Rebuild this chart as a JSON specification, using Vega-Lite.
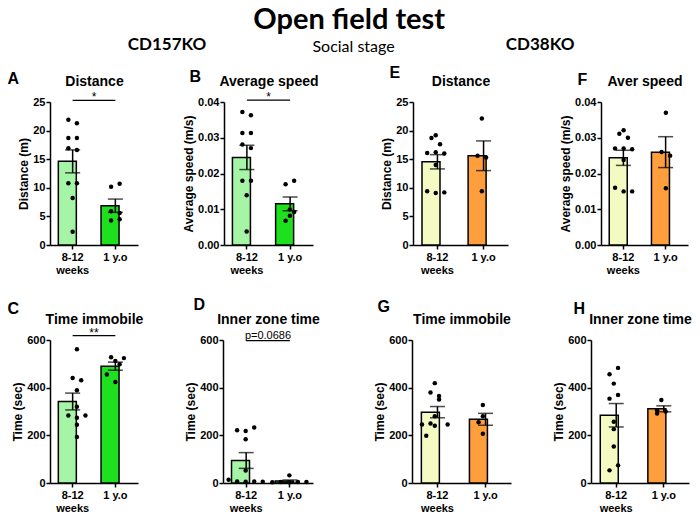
{
  "$schema": "https://vega.github.io/schema/vega-lite/v6.json",
  "padding": {"left": 7, "top": 6, "right": 0, "bottom": 0},
  "background": "white",
  "title": {"text": "Open field test", "font": "Lato", "fontSize": 29, "fontWeight": "bold", "color": "black", "anchor": "middle", "offset": 0},
  "config": {
    "font": "Liberation Sans",
    "view": {"stroke": null},
    "axis": {"domainColor": "black", "domainWidth": 1.5, "tickColor": "black", "tickWidth": 1.5, "tickSize": 4, "labelColor": "black", "labelFont": "Liberation Sans", "labelFontWeight": "bold", "labelFontSize": 11, "labelPadding": 1, "titleFont": "Liberation Sans", "titleFontWeight": "bold", "titleFontSize": 12, "titleColor": "black", "titlePadding": 2, "grid": false},
    "axisBottom": {"labelAngle": 0, "labelLineHeight": 13, "labelPadding": 2, "titleFontSize": 16, "titleAlign": "left", "titleAnchor": "start", "titleBaseline": "alphabetic"},
    "axisTop": {"labels": false, "ticks": false, "domain": false, "titleFontSize": 14, "titleBaseline": "alphabetic", "titleY": -17}
  },
  "datasets": {
    "obs": [
      {"panel": "A", "group": "8-12 weeks", "value": 21.9, "slot": -1},
      {"panel": "A", "group": "8-12 weeks", "value": 21.3, "slot": 1},
      {"panel": "A", "group": "8-12 weeks", "value": 18.7, "slot": -1},
      {"panel": "A", "group": "8-12 weeks", "value": 18.7, "slot": 1},
      {"panel": "A", "group": "8-12 weeks", "value": 16.9, "slot": -1},
      {"panel": "A", "group": "8-12 weeks", "value": 16.6, "slot": 1},
      {"panel": "A", "group": "8-12 weeks", "value": 10.8, "slot": -1},
      {"panel": "A", "group": "8-12 weeks", "value": 10.8, "slot": 1},
      {"panel": "A", "group": "8-12 weeks", "value": 8.2, "slot": 0},
      {"panel": "A", "group": "8-12 weeks", "value": 2.3, "slot": 0},
      {"panel": "A", "group": "1 y.o", "value": 10.2, "slot": -1},
      {"panel": "A", "group": "1 y.o", "value": 10.7, "slot": 1},
      {"panel": "A", "group": "1 y.o", "value": 5.9, "slot": -1},
      {"panel": "A", "group": "1 y.o", "value": 5.6, "slot": 1},
      {"panel": "A", "group": "1 y.o", "value": 4.3, "slot": -1},
      {"panel": "A", "group": "1 y.o", "value": 4.5, "slot": 1},

      {"panel": "B", "group": "8-12 weeks", "value": 0.0372, "slot": -1},
      {"panel": "B", "group": "8-12 weeks", "value": 0.0363, "slot": 1},
      {"panel": "B", "group": "8-12 weeks", "value": 0.0313, "slot": -1},
      {"panel": "B", "group": "8-12 weeks", "value": 0.0313, "slot": 1},
      {"panel": "B", "group": "8-12 weeks", "value": 0.0281, "slot": -1},
      {"panel": "B", "group": "8-12 weeks", "value": 0.0271, "slot": 1},
      {"panel": "B", "group": "8-12 weeks", "value": 0.018, "slot": -1},
      {"panel": "B", "group": "8-12 weeks", "value": 0.018, "slot": 1},
      {"panel": "B", "group": "8-12 weeks", "value": 0.0139, "slot": 0},
      {"panel": "B", "group": "8-12 weeks", "value": 0.0038, "slot": 0},
      {"panel": "B", "group": "1 y.o", "value": 0.017, "slot": -1},
      {"panel": "B", "group": "1 y.o", "value": 0.018, "slot": 1},
      {"panel": "B", "group": "1 y.o", "value": 0.0099, "slot": 0},
      {"panel": "B", "group": "1 y.o", "value": 0.0092, "slot": 1},
      {"panel": "B", "group": "1 y.o", "value": 0.0068, "slot": -1},
      {"panel": "B", "group": "1 y.o", "value": 0.0082, "slot": 0},

      {"panel": "E", "group": "8-12 weeks", "value": 19.2, "slot": 0},
      {"panel": "E", "group": "8-12 weeks", "value": 18.7, "slot": -1},
      {"panel": "E", "group": "8-12 weeks", "value": 17.6, "slot": 1},
      {"panel": "E", "group": "8-12 weeks", "value": 16.1, "slot": -2},
      {"panel": "E", "group": "8-12 weeks", "value": 16.2, "slot": 0},
      {"panel": "E", "group": "8-12 weeks", "value": 16.0, "slot": 2},
      {"panel": "E", "group": "8-12 weeks", "value": 14.0, "slot": 0},
      {"panel": "E", "group": "8-12 weeks", "value": 9.4, "slot": -2},
      {"panel": "E", "group": "8-12 weeks", "value": 9.1, "slot": 0},
      {"panel": "E", "group": "8-12 weeks", "value": 9.2, "slot": 2},
      {"panel": "E", "group": "1 y.o", "value": 22.1, "slot": 0},
      {"panel": "E", "group": "1 y.o", "value": 15.6, "slot": -1},
      {"panel": "E", "group": "1 y.o", "value": 15.3, "slot": 1},
      {"panel": "E", "group": "1 y.o", "value": 9.4, "slot": 0},

      {"panel": "F", "group": "8-12 weeks", "value": 0.0321, "slot": 0},
      {"panel": "F", "group": "8-12 weeks", "value": 0.0311, "slot": -1},
      {"panel": "F", "group": "8-12 weeks", "value": 0.030, "slot": 1},
      {"panel": "F", "group": "8-12 weeks", "value": 0.027, "slot": -2},
      {"panel": "F", "group": "8-12 weeks", "value": 0.027, "slot": 0},
      {"panel": "F", "group": "8-12 weeks", "value": 0.0268, "slot": 2},
      {"panel": "F", "group": "8-12 weeks", "value": 0.0238, "slot": 0},
      {"panel": "F", "group": "8-12 weeks", "value": 0.016, "slot": -2},
      {"panel": "F", "group": "8-12 weeks", "value": 0.015, "slot": 0},
      {"panel": "F", "group": "8-12 weeks", "value": 0.015, "slot": 2},
      {"panel": "F", "group": "1 y.o", "value": 0.037, "slot": 0},
      {"panel": "F", "group": "1 y.o", "value": 0.026, "slot": -1},
      {"panel": "F", "group": "1 y.o", "value": 0.025, "slot": 1},
      {"panel": "F", "group": "1 y.o", "value": 0.0159, "slot": 0},

      {"panel": "C", "group": "8-12 weeks", "value": 561, "slot": 1},
      {"panel": "C", "group": "8-12 weeks", "value": 441, "slot": 0},
      {"panel": "C", "group": "8-12 weeks", "value": 431, "slot": 2},
      {"panel": "C", "group": "8-12 weeks", "value": 389, "slot": 1},
      {"panel": "C", "group": "8-12 weeks", "value": 320, "slot": 1},
      {"panel": "C", "group": "8-12 weeks", "value": 283, "slot": -1},
      {"panel": "C", "group": "8-12 weeks", "value": 283, "slot": 3},
      {"panel": "C", "group": "8-12 weeks", "value": 274, "slot": 1},
      {"panel": "C", "group": "8-12 weeks", "value": 244, "slot": 1},
      {"panel": "C", "group": "8-12 weeks", "value": 193, "slot": 1},
      {"panel": "C", "group": "1 y.o", "value": 528, "slot": -1},
      {"panel": "C", "group": "1 y.o", "value": 524, "slot": 2},
      {"panel": "C", "group": "1 y.o", "value": 512, "slot": 0},
      {"panel": "C", "group": "1 y.o", "value": 498, "slot": 1},
      {"panel": "C", "group": "1 y.o", "value": 455, "slot": -2},
      {"panel": "C", "group": "1 y.o", "value": 424, "slot": 0},

      {"panel": "D", "group": "8-12 weeks", "value": 221, "slot": -2},
      {"panel": "D", "group": "8-12 weeks", "value": 218, "slot": 0},
      {"panel": "D", "group": "8-12 weeks", "value": 233, "slot": 2},
      {"panel": "D", "group": "8-12 weeks", "value": 184, "slot": 0},
      {"panel": "D", "group": "8-12 weeks", "value": 52, "slot": 0},
      {"panel": "D", "group": "8-12 weeks", "value": 14, "slot": -4},
      {"panel": "D", "group": "8-12 weeks", "value": 6, "slot": -2},
      {"panel": "D", "group": "8-12 weeks", "value": 5, "slot": 0},
      {"panel": "D", "group": "8-12 weeks", "value": 6, "slot": 2},
      {"panel": "D", "group": "8-12 weeks", "value": 5, "slot": 4},
      {"panel": "D", "group": "1 y.o", "value": 32, "slot": 0},
      {"panel": "D", "group": "1 y.o", "value": 3, "slot": -4},
      {"panel": "D", "group": "1 y.o", "value": 4, "slot": -2},
      {"panel": "D", "group": "1 y.o", "value": 3, "slot": 0},
      {"panel": "D", "group": "1 y.o", "value": 4, "slot": 2},
      {"panel": "D", "group": "1 y.o", "value": 4, "slot": 4},

      {"panel": "G", "group": "8-12 weeks", "value": 419, "slot": 0},
      {"panel": "G", "group": "8-12 weeks", "value": 380, "slot": -1},
      {"panel": "G", "group": "8-12 weeks", "value": 365, "slot": 1},
      {"panel": "G", "group": "8-12 weeks", "value": 350, "slot": 1},
      {"panel": "G", "group": "8-12 weeks", "value": 280, "slot": 0},
      {"panel": "G", "group": "8-12 weeks", "value": 250, "slot": -1},
      {"panel": "G", "group": "8-12 weeks", "value": 245, "slot": -3},
      {"panel": "G", "group": "8-12 weeks", "value": 240, "slot": 0},
      {"panel": "G", "group": "8-12 weeks", "value": 245, "slot": 3},
      {"panel": "G", "group": "8-12 weeks", "value": 198, "slot": -2},
      {"panel": "G", "group": "1 y.o", "value": 327, "slot": 0},
      {"panel": "G", "group": "1 y.o", "value": 280, "slot": 0},
      {"panel": "G", "group": "1 y.o", "value": 255, "slot": -1},
      {"panel": "G", "group": "1 y.o", "value": 207, "slot": 0},

      {"panel": "H", "group": "8-12 weeks", "value": 483, "slot": 1},
      {"panel": "H", "group": "8-12 weeks", "value": 456, "slot": -1},
      {"panel": "H", "group": "8-12 weeks", "value": 417, "slot": 0},
      {"panel": "H", "group": "8-12 weeks", "value": 369, "slot": 1},
      {"panel": "H", "group": "8-12 weeks", "value": 354, "slot": -1},
      {"panel": "H", "group": "8-12 weeks", "value": 257, "slot": 0},
      {"panel": "H", "group": "8-12 weeks", "value": 226, "slot": 0},
      {"panel": "H", "group": "8-12 weeks", "value": 153, "slot": 0},
      {"panel": "H", "group": "8-12 weeks", "value": 74, "slot": 1},
      {"panel": "H", "group": "8-12 weeks", "value": 53, "slot": -1},
      {"panel": "H", "group": "1 y.o", "value": 348, "slot": 0},
      {"panel": "H", "group": "1 y.o", "value": 305, "slot": -1},
      {"panel": "H", "group": "1 y.o", "value": 300, "slot": 1},
      {"panel": "H", "group": "1 y.o", "value": 292, "slot": -1}
    ]
  },
  "columns": 1,
  "align": "none",
  "spacing": 21,
  "concat": [
    {
      "columns": 1,
      "align": "none",
      "spacing": 9,
      "concat": [
        {
          "width": 560, "height": 20,
          "layer": [
            {
              "data": {"values": [{"label": "CD157KO"}, {"label": "CD38KO"}]},
              "mark": {"type": "text", "font": "Lato", "fontWeight": "bold", "fontSize": 17, "color": "black"},
              "encoding": {
                "x": {"field": "label", "type": "nominal", "scale": {"type": "point", "domain": ["CD157KO", "Social stage", "CD38KO"], "padding": 0.501, "align": 0.626}, "axis": null},
                "text": {"field": "label"}
              }
            },
            {
              "data": {"values": [{"label": "Social stage"}]},
              "mark": {"type": "text", "font": "Lato", "fontSize": 16, "color": "black", "dy": 2},
              "encoding": {
                "x": {"field": "label", "type": "nominal", "scale": {"type": "point", "domain": ["CD157KO", "Social stage", "CD38KO"], "padding": 0.501, "align": 0.626}, "axis": null},
                "text": {"field": "label"}
              }
            }
          ]
        },
        {
          "spacing": 61,
          "hconcat": [
            {
              "bounds": "flush",
              "spacing": 86,
              "hconcat": [
                {
                  "width": 88, "height": 143,
                  "data": {"name": "obs"},
                  "resolve": {"axis": {"x": "independent"}},
                  "layer": [
                    {
                      "transform": [{"filter": "datum.panel == 'A'"}],
                      "mark": {"type": "bar", "stroke": "black", "strokeWidth": 1.5, "width": {"band": 0.67}},
                      "encoding": {
                        "x": {"field": "group", "type": "nominal", "scale": {"domain": ["8-12 weeks", "1 y.o"], "paddingInner": 0, "paddingOuter": 0.03}, "axis": {"orient": "bottom", "title": "A", "titleX": -43, "titleY": -162, "labelExpr": "datum.value == '8-12 weeks' ? ['8-12', 'weeks'] : datum.value"}},
                        "y": {"aggregate": "mean", "field": "value", "type": "quantitative", "title": "Distance (m)", "scale": {"domain": [0, 25], "nice": false}, "axis": {"values": [0, 5, 10, 15, 20, 25]}},
                        "color": {"condition": {"test": "datum.group == '8-12 weeks'", "value": "#a6f5a6"}, "value": "#1ee01e"}
                      }
                    },
                    {
                      "transform": [{"filter": "datum.panel == 'A'"}],
                      "mark": {"type": "errorbar", "extent": "stderr", "color": "black", "thickness": 1.5, "ticks": {"size": 15, "thickness": 1.5, "color": "black"}},
                      "encoding": {
                        "x": {"field": "group", "type": "nominal", "scale": {"domain": ["8-12 weeks", "1 y.o"]}, "axis": null},
                        "y": {"field": "value", "type": "quantitative", "title": "Distance (m)", "scale": {"domain": [0, 25], "nice": false}, "axis": {"values": [0, 5, 10, 15, 20, 25]}}
                      }
                    },
                    {
                      "transform": [{"filter": "datum.panel == 'A'"}],
                      "mark": {"type": "circle", "size": 20, "color": "black", "opacity": 1},
                      "encoding": {
                        "x": {"field": "group", "type": "nominal", "scale": {"domain": ["8-12 weeks", "1 y.o"]}, "axis": {"orient": "top", "title": "Distance"}},
                        "xOffset": {"field": "slot", "type": "ordinal", "scale": {"type": "point", "domain": [-4, -3, -2, -1, 0, 1, 2, 3, 4], "padding": 3.06}},
                        "y": {"field": "value", "type": "quantitative", "title": "Distance (m)", "scale": {"domain": [0, 25], "nice": false}, "axis": {"values": [0, 5, 10, 15, 20, 25]}}
                      }
                    },
                    {
                      "data": {"values": [{"g1": "8-12 weeks", "g2": "1 y.o", "level": 25.3, "label": "*"}]},
                      "mark": {"type": "rule", "color": "black", "strokeWidth": 1.2, "clip": false},
                      "encoding": {
                        "x": {"field": "g1", "type": "nominal", "scale": {"domain": ["8-12 weeks", "1 y.o"]}, "axis": null},
                        "x2": {"field": "g2"},
                        "y": {"field": "level", "type": "quantitative", "title": "Distance (m)", "scale": {"domain": [0, 25], "nice": false}, "axis": {"values": [0, 5, 10, 15, 20, 25]}}
                      }
                    },
                    {
                      "data": {"values": [{"g1": "8-12 weeks", "g2": "1 y.o", "level": 25.3, "label": "*"}]},
                      "mark": {"type": "text", "color": "black", "fontSize": 12, "baseline": "alphabetic", "dy": 1, "clip": false},
                      "encoding": {
                        "x": {"field": "g1", "type": "nominal", "bandPosition": 1, "scale": {"domain": ["8-12 weeks", "1 y.o"]}, "axis": null},
                        "y": {"field": "level", "type": "quantitative", "title": "Distance (m)", "scale": {"domain": [0, 25], "nice": false}, "axis": {"values": [0, 5, 10, 15, 20, 25]}},
                        "text": {"field": "label"}
                      }
                    }
                  ]
                },
                {
                  "width": 89, "height": 143,
                  "data": {"name": "obs"},
                  "resolve": {"axis": {"x": "independent"}},
                  "layer": [
                    {
                      "transform": [{"filter": "datum.panel == 'B'"}],
                      "mark": {"type": "bar", "stroke": "black", "strokeWidth": 1.5, "width": {"band": 0.67}},
                      "encoding": {
                        "x": {"field": "group", "type": "nominal", "scale": {"domain": ["8-12 weeks", "1 y.o"], "paddingInner": 0, "paddingOuter": 0.03}, "axis": {"orient": "bottom", "title": "B", "titleX": -35, "titleY": -164, "labelExpr": "datum.value == '8-12 weeks' ? ['8-12', 'weeks'] : datum.value"}},
                        "y": {"aggregate": "mean", "field": "value", "type": "quantitative", "title": "Average speed (m/s)", "scale": {"domain": [0, 0.04], "nice": false}, "axis": {"values": [0, 0.01, 0.02, 0.03, 0.04], "format": ".2f"}},
                        "color": {"condition": {"test": "datum.group == '8-12 weeks'", "value": "#a6f5a6"}, "value": "#1ee01e"}
                      }
                    },
                    {
                      "transform": [{"filter": "datum.panel == 'B'"}],
                      "mark": {"type": "errorbar", "extent": "stderr", "color": "black", "thickness": 1.5, "ticks": {"size": 15, "thickness": 1.5, "color": "black"}},
                      "encoding": {
                        "x": {"field": "group", "type": "nominal", "scale": {"domain": ["8-12 weeks", "1 y.o"]}, "axis": null},
                        "y": {"field": "value", "type": "quantitative", "title": "Average speed (m/s)", "scale": {"domain": [0, 0.04], "nice": false}, "axis": {"values": [0, 0.01, 0.02, 0.03, 0.04], "format": ".2f"}}
                      }
                    },
                    {
                      "transform": [{"filter": "datum.panel == 'B'"}],
                      "mark": {"type": "circle", "size": 20, "color": "black", "opacity": 1},
                      "encoding": {
                        "x": {"field": "group", "type": "nominal", "scale": {"domain": ["8-12 weeks", "1 y.o"]}, "axis": {"orient": "top", "title": "Average speed"}},
                        "xOffset": {"field": "slot", "type": "ordinal", "scale": {"type": "point", "domain": [-4, -3, -2, -1, 0, 1, 2, 3, 4], "padding": 3.06}},
                        "y": {"field": "value", "type": "quantitative", "title": "Average speed (m/s)", "scale": {"domain": [0, 0.04], "nice": false}, "axis": {"values": [0, 0.01, 0.02, 0.03, 0.04], "format": ".2f"}}
                      }
                    },
                    {
                      "data": {"values": [{"g1": "8-12 weeks", "g2": "1 y.o", "level": 0.0405, "label": "*"}]},
                      "mark": {"type": "rule", "color": "black", "strokeWidth": 1.2, "clip": false},
                      "encoding": {
                        "x": {"field": "g1", "type": "nominal", "scale": {"domain": ["8-12 weeks", "1 y.o"]}, "axis": null},
                        "x2": {"field": "g2"},
                        "y": {"field": "level", "type": "quantitative", "title": "Average speed (m/s)", "scale": {"domain": [0, 0.04], "nice": false}, "axis": {"values": [0, 0.01, 0.02, 0.03, 0.04], "format": ".2f"}}
                      }
                    },
                    {
                      "data": {"values": [{"g1": "8-12 weeks", "g2": "1 y.o", "level": 0.0405, "label": "*"}]},
                      "mark": {"type": "text", "color": "black", "fontSize": 12, "baseline": "alphabetic", "dy": 1, "clip": false},
                      "encoding": {
                        "x": {"field": "g1", "type": "nominal", "bandPosition": 1, "scale": {"domain": ["8-12 weeks", "1 y.o"]}, "axis": null},
                        "y": {"field": "level", "type": "quantitative", "title": "Average speed (m/s)", "scale": {"domain": [0, 0.04], "nice": false}, "axis": {"values": [0, 0.01, 0.02, 0.03, 0.04], "format": ".2f"}},
                        "text": {"field": "label"}
                      }
                    }
                  ]
                }
              ]
            },
            {
              "bounds": "flush",
              "spacing": 93,
              "hconcat": [
                {
                  "width": 95, "height": 143,
                  "data": {"name": "obs"},
                  "resolve": {"axis": {"x": "independent"}},
                  "layer": [
                    {
                      "transform": [{"filter": "datum.panel == 'E'"}],
                      "mark": {"type": "bar", "stroke": "black", "strokeWidth": 1.5, "width": {"band": 0.67}},
                      "encoding": {
                        "x": {"field": "group", "type": "nominal", "scale": {"domain": ["8-12 weeks", "1 y.o"], "paddingInner": 0, "paddingOuter": 0.03}, "axis": {"orient": "bottom", "title": "E", "titleX": -24, "titleY": -168, "labelExpr": "datum.value == '8-12 weeks' ? ['8-12', 'weeks'] : datum.value"}},
                        "y": {"aggregate": "mean", "field": "value", "type": "quantitative", "title": "Distance (m)", "scale": {"domain": [0, 25], "nice": false}, "axis": {"values": [0, 5, 10, 15, 20, 25]}},
                        "color": {"condition": {"test": "datum.group == '8-12 weeks'", "value": "#f4fbc2"}, "value": "#ff9e3d"}
                      }
                    },
                    {
                      "transform": [{"filter": "datum.panel == 'E'"}],
                      "mark": {"type": "errorbar", "extent": "stderr", "color": "black", "thickness": 1.5, "ticks": {"size": 15, "thickness": 1.5, "color": "black"}},
                      "encoding": {
                        "x": {"field": "group", "type": "nominal", "scale": {"domain": ["8-12 weeks", "1 y.o"]}, "axis": null},
                        "y": {"field": "value", "type": "quantitative", "title": "Distance (m)", "scale": {"domain": [0, 25], "nice": false}, "axis": {"values": [0, 5, 10, 15, 20, 25]}}
                      }
                    },
                    {
                      "transform": [{"filter": "datum.panel == 'E'"}],
                      "mark": {"type": "circle", "size": 20, "color": "black", "opacity": 1},
                      "encoding": {
                        "x": {"field": "group", "type": "nominal", "scale": {"domain": ["8-12 weeks", "1 y.o"]}, "axis": {"orient": "top", "title": "Distance"}},
                        "xOffset": {"field": "slot", "type": "ordinal", "scale": {"type": "point", "domain": [-4, -3, -2, -1, 0, 1, 2, 3, 4], "padding": 3.06}},
                        "y": {"field": "value", "type": "quantitative", "title": "Distance (m)", "scale": {"domain": [0, 25], "nice": false}, "axis": {"values": [0, 5, 10, 15, 20, 25]}}
                      }
                    }
                  ]
                },
                {
                  "width": 87, "height": 143,
                  "data": {"name": "obs"},
                  "resolve": {"axis": {"x": "independent"}},
                  "layer": [
                    {
                      "transform": [{"filter": "datum.panel == 'F'"}],
                      "mark": {"type": "bar", "stroke": "black", "strokeWidth": 1.5, "width": {"band": 0.67}},
                      "encoding": {
                        "x": {"field": "group", "type": "nominal", "scale": {"domain": ["8-12 weeks", "1 y.o"], "paddingInner": 0, "paddingOuter": 0.03}, "axis": {"orient": "bottom", "title": "F", "titleX": -24, "titleY": -161, "labelExpr": "datum.value == '8-12 weeks' ? ['8-12', 'weeks'] : datum.value"}},
                        "y": {"aggregate": "mean", "field": "value", "type": "quantitative", "title": "Average speed (m/s)", "scale": {"domain": [0, 0.04], "nice": false}, "axis": {"values": [0, 0.01, 0.02, 0.03, 0.04], "format": ".2f"}},
                        "color": {"condition": {"test": "datum.group == '8-12 weeks'", "value": "#f4fbc2"}, "value": "#ff9e3d"}
                      }
                    },
                    {
                      "transform": [{"filter": "datum.panel == 'F'"}],
                      "mark": {"type": "errorbar", "extent": "stderr", "color": "black", "thickness": 1.5, "ticks": {"size": 15, "thickness": 1.5, "color": "black"}},
                      "encoding": {
                        "x": {"field": "group", "type": "nominal", "scale": {"domain": ["8-12 weeks", "1 y.o"]}, "axis": null},
                        "y": {"field": "value", "type": "quantitative", "title": "Average speed (m/s)", "scale": {"domain": [0, 0.04], "nice": false}, "axis": {"values": [0, 0.01, 0.02, 0.03, 0.04], "format": ".2f"}}
                      }
                    },
                    {
                      "transform": [{"filter": "datum.panel == 'F'"}],
                      "mark": {"type": "circle", "size": 20, "color": "black", "opacity": 1},
                      "encoding": {
                        "x": {"field": "group", "type": "nominal", "scale": {"domain": ["8-12 weeks", "1 y.o"]}, "axis": {"orient": "top", "title": "Aver speed"}},
                        "xOffset": {"field": "slot", "type": "ordinal", "scale": {"type": "point", "domain": [-4, -3, -2, -1, 0, 1, 2, 3, 4], "padding": 3.06}},
                        "y": {"field": "value", "type": "quantitative", "title": "Average speed (m/s)", "scale": {"domain": [0, 0.04], "nice": false}, "axis": {"values": [0, 0.01, 0.02, 0.03, 0.04], "format": ".2f"}}
                      }
                    }
                  ]
                }
              ]
            }
          ]
        }
      ]
    },
    {
      "spacing": 53,
      "hconcat": [
        {
          "bounds": "flush",
          "spacing": 85,
          "hconcat": [
            {
              "width": 88, "height": 143,
              "data": {"name": "obs"},
              "resolve": {"axis": {"x": "independent"}},
              "layer": [
                {
                  "transform": [{"filter": "datum.panel == 'C'"}],
                  "mark": {"type": "bar", "stroke": "black", "strokeWidth": 1.5, "width": {"band": 0.67}},
                  "encoding": {
                    "x": {"field": "group", "type": "nominal", "scale": {"domain": ["8-12 weeks", "1 y.o"], "paddingInner": 0, "paddingOuter": 0.03}, "axis": {"orient": "bottom", "title": "C", "titleX": -43, "titleY": -170, "labelExpr": "datum.value == '8-12 weeks' ? ['8-12', 'weeks'] : datum.value"}},
                    "y": {"aggregate": "mean", "field": "value", "type": "quantitative", "title": "Time (sec)", "scale": {"domain": [0, 600], "nice": false}, "axis": {"values": [0, 200, 400, 600]}},
                    "color": {"condition": {"test": "datum.group == '8-12 weeks'", "value": "#a6f5a6"}, "value": "#1ee01e"}
                  }
                },
                {
                  "transform": [{"filter": "datum.panel == 'C'"}],
                  "mark": {"type": "errorbar", "extent": "stderr", "color": "black", "thickness": 1.5, "ticks": {"size": 15, "thickness": 1.5, "color": "black"}},
                  "encoding": {
                    "x": {"field": "group", "type": "nominal", "scale": {"domain": ["8-12 weeks", "1 y.o"]}, "axis": null},
                    "y": {"field": "value", "type": "quantitative", "title": "Time (sec)", "scale": {"domain": [0, 600], "nice": false}, "axis": {"values": [0, 200, 400, 600]}}
                  }
                },
                {
                  "transform": [{"filter": "datum.panel == 'C'"}],
                  "mark": {"type": "circle", "size": 20, "color": "black", "opacity": 1},
                  "encoding": {
                    "x": {"field": "group", "type": "nominal", "scale": {"domain": ["8-12 weeks", "1 y.o"]}, "axis": {"orient": "top", "title": "Time immobile"}},
                    "xOffset": {"field": "slot", "type": "ordinal", "scale": {"type": "point", "domain": [-4, -3, -2, -1, 0, 1, 2, 3, 4], "padding": 3.06}},
                    "y": {"field": "value", "type": "quantitative", "title": "Time (sec)", "scale": {"domain": [0, 600], "nice": false}, "axis": {"values": [0, 200, 400, 600]}}
                  }
                },
                {
                  "data": {"values": [{"g1": "8-12 weeks", "g2": "1 y.o", "level": 618, "label": "**"}]},
                  "mark": {"type": "rule", "color": "black", "strokeWidth": 1.2, "clip": false},
                  "encoding": {
                    "x": {"field": "g1", "type": "nominal", "scale": {"domain": ["8-12 weeks", "1 y.o"]}, "axis": null},
                    "x2": {"field": "g2"},
                    "y": {"field": "level", "type": "quantitative", "title": "Time (sec)", "scale": {"domain": [0, 600], "nice": false}, "axis": {"values": [0, 200, 400, 600]}}
                  }
                },
                {
                  "data": {"values": [{"g1": "8-12 weeks", "g2": "1 y.o", "level": 618, "label": "**"}]},
                  "mark": {"type": "text", "color": "black", "fontSize": 12, "baseline": "alphabetic", "dy": 1, "clip": false},
                  "encoding": {
                    "x": {"field": "g1", "type": "nominal", "bandPosition": 1, "scale": {"domain": ["8-12 weeks", "1 y.o"]}, "axis": null},
                    "y": {"field": "level", "type": "quantitative", "title": "Time (sec)", "scale": {"domain": [0, 600], "nice": false}, "axis": {"values": [0, 200, 400, 600]}},
                    "text": {"field": "label"}
                  }
                }
              ]
            },
            {
              "width": 90, "height": 143,
              "data": {"name": "obs"},
              "resolve": {"axis": {"x": "independent"}},
              "layer": [
                {
                  "transform": [{"filter": "datum.panel == 'D'"}],
                  "mark": {"type": "bar", "stroke": "black", "strokeWidth": 1.5, "width": {"band": 0.67}},
                  "encoding": {
                    "x": {"field": "group", "type": "nominal", "scale": {"domain": ["8-12 weeks", "1 y.o"], "paddingInner": 0, "paddingOuter": 0.03}, "axis": {"orient": "bottom", "title": "D", "titleX": -30, "titleY": -174, "labelExpr": "datum.value == '8-12 weeks' ? ['8-12', 'weeks'] : datum.value"}},
                    "y": {"aggregate": "mean", "field": "value", "type": "quantitative", "title": "Time (sec)", "scale": {"domain": [0, 600], "nice": false}, "axis": {"values": [0, 200, 400, 600]}},
                    "color": {"condition": {"test": "datum.group == '8-12 weeks'", "value": "#a6f5a6"}, "value": "#1ee01e"}
                  }
                },
                {
                  "transform": [{"filter": "datum.panel == 'D'"}],
                  "mark": {"type": "errorbar", "extent": "stderr", "color": "black", "thickness": 1.5, "ticks": {"size": 15, "thickness": 1.5, "color": "black"}},
                  "encoding": {
                    "x": {"field": "group", "type": "nominal", "scale": {"domain": ["8-12 weeks", "1 y.o"]}, "axis": null},
                    "y": {"field": "value", "type": "quantitative", "title": "Time (sec)", "scale": {"domain": [0, 600], "nice": false}, "axis": {"values": [0, 200, 400, 600]}}
                  }
                },
                {
                  "transform": [{"filter": "datum.panel == 'D'"}],
                  "mark": {"type": "circle", "size": 20, "color": "black", "opacity": 1},
                  "encoding": {
                    "x": {"field": "group", "type": "nominal", "scale": {"domain": ["8-12 weeks", "1 y.o"]}, "axis": {"orient": "top", "title": "Inner zone time"}},
                    "xOffset": {"field": "slot", "type": "ordinal", "scale": {"type": "point", "domain": [-4, -3, -2, -1, 0, 1, 2, 3, 4], "padding": 3.06}},
                    "y": {"field": "value", "type": "quantitative", "title": "Time (sec)", "scale": {"domain": [0, 600], "nice": false}, "axis": {"values": [0, 200, 400, 600]}}
                  }
                },
                {
                  "data": {"values": [{"g1": "8-12 weeks", "g2": "1 y.o", "level": 597, "label": "p=0.0686"}]},
                  "mark": {"type": "rule", "color": "black", "strokeWidth": 1.2, "clip": false},
                  "encoding": {
                    "x": {"field": "g1", "type": "nominal", "scale": {"domain": ["8-12 weeks", "1 y.o"]}, "axis": null},
                    "x2": {"field": "g2"},
                    "y": {"field": "level", "type": "quantitative", "title": "Time (sec)", "scale": {"domain": [0, 600], "nice": false}, "axis": {"values": [0, 200, 400, 600]}}
                  }
                },
                {
                  "data": {"values": [{"g1": "8-12 weeks", "g2": "1 y.o", "level": 597, "label": "p=0.0686"}]},
                  "mark": {"type": "text", "color": "black", "fontSize": 11, "baseline": "alphabetic", "dy": -2, "clip": false},
                  "encoding": {
                    "x": {"field": "g1", "type": "nominal", "bandPosition": 1, "scale": {"domain": ["8-12 weeks", "1 y.o"]}, "axis": null},
                    "y": {"field": "level", "type": "quantitative", "title": "Time (sec)", "scale": {"domain": [0, 600], "nice": false}, "axis": {"values": [0, 200, 400, 600]}},
                    "text": {"field": "label"}
                  }
                }
              ]
            }
          ]
        },
        {
          "bounds": "flush",
          "spacing": 80,
          "hconcat": [
            {
              "width": 99, "height": 143,
              "data": {"name": "obs"},
              "resolve": {"axis": {"x": "independent"}},
              "layer": [
                {
                  "transform": [{"filter": "datum.panel == 'G'"}],
                  "mark": {"type": "bar", "stroke": "black", "strokeWidth": 1.5, "width": {"band": 0.67}},
                  "encoding": {
                    "x": {"field": "group", "type": "nominal", "scale": {"domain": ["8-12 weeks", "1 y.o"], "paddingInner": 0, "paddingOuter": 0.03}, "axis": {"orient": "bottom", "title": "G", "titleX": -35, "titleY": -172, "labelExpr": "datum.value == '8-12 weeks' ? ['8-12', 'weeks'] : datum.value"}},
                    "y": {"aggregate": "mean", "field": "value", "type": "quantitative", "title": "Time (sec)", "scale": {"domain": [0, 600], "nice": false}, "axis": {"values": [0, 200, 400, 600]}},
                    "color": {"condition": {"test": "datum.group == '8-12 weeks'", "value": "#f4fbc2"}, "value": "#ff9e3d"}
                  }
                },
                {
                  "transform": [{"filter": "datum.panel == 'G'"}],
                  "mark": {"type": "errorbar", "extent": "stderr", "color": "black", "thickness": 1.5, "ticks": {"size": 15, "thickness": 1.5, "color": "black"}},
                  "encoding": {
                    "x": {"field": "group", "type": "nominal", "scale": {"domain": ["8-12 weeks", "1 y.o"]}, "axis": null},
                    "y": {"field": "value", "type": "quantitative", "title": "Time (sec)", "scale": {"domain": [0, 600], "nice": false}, "axis": {"values": [0, 200, 400, 600]}}
                  }
                },
                {
                  "transform": [{"filter": "datum.panel == 'G'"}],
                  "mark": {"type": "circle", "size": 20, "color": "black", "opacity": 1},
                  "encoding": {
                    "x": {"field": "group", "type": "nominal", "scale": {"domain": ["8-12 weeks", "1 y.o"]}, "axis": {"orient": "top", "title": "Time immobile"}},
                    "xOffset": {"field": "slot", "type": "ordinal", "scale": {"type": "point", "domain": [-4, -3, -2, -1, 0, 1, 2, 3, 4], "padding": 3.06}},
                    "y": {"field": "value", "type": "quantitative", "title": "Time (sec)", "scale": {"domain": [0, 600], "nice": false}, "axis": {"values": [0, 200, 400, 600]}}
                  }
                }
              ]
            },
            {
              "width": 98, "height": 143,
              "data": {"name": "obs"},
              "resolve": {"axis": {"x": "independent"}},
              "layer": [
                {
                  "transform": [{"filter": "datum.panel == 'H'"}],
                  "mark": {"type": "bar", "stroke": "black", "strokeWidth": 1.5, "width": {"band": 0.67}},
                  "encoding": {
                    "x": {"field": "group", "type": "nominal", "scale": {"domain": ["8-12 weeks", "1 y.o"], "paddingInner": 0, "paddingOuter": 0.03}, "axis": {"orient": "bottom", "title": "H", "titleX": -18, "titleY": -170, "labelExpr": "datum.value == '8-12 weeks' ? ['8-12', 'weeks'] : datum.value"}},
                    "y": {"aggregate": "mean", "field": "value", "type": "quantitative", "title": "Time (sec)", "scale": {"domain": [0, 600], "nice": false}, "axis": {"values": [0, 200, 400, 600]}},
                    "color": {"condition": {"test": "datum.group == '8-12 weeks'", "value": "#f4fbc2"}, "value": "#ff9e3d"}
                  }
                },
                {
                  "transform": [{"filter": "datum.panel == 'H'"}],
                  "mark": {"type": "errorbar", "extent": "stderr", "color": "black", "thickness": 1.5, "ticks": {"size": 15, "thickness": 1.5, "color": "black"}},
                  "encoding": {
                    "x": {"field": "group", "type": "nominal", "scale": {"domain": ["8-12 weeks", "1 y.o"]}, "axis": null},
                    "y": {"field": "value", "type": "quantitative", "title": "Time (sec)", "scale": {"domain": [0, 600], "nice": false}, "axis": {"values": [0, 200, 400, 600]}}
                  }
                },
                {
                  "transform": [{"filter": "datum.panel == 'H'"}],
                  "mark": {"type": "circle", "size": 20, "color": "black", "opacity": 1},
                  "encoding": {
                    "x": {"field": "group", "type": "nominal", "scale": {"domain": ["8-12 weeks", "1 y.o"]}, "axis": {"orient": "top", "title": "Inner zone time"}},
                    "xOffset": {"field": "slot", "type": "ordinal", "scale": {"type": "point", "domain": [-4, -3, -2, -1, 0, 1, 2, 3, 4], "padding": 3.06}},
                    "y": {"field": "value", "type": "quantitative", "title": "Time (sec)", "scale": {"domain": [0, 600], "nice": false}, "axis": {"values": [0, 200, 400, 600]}}
                  }
                }
              ]
            }
          ]
        }
      ]
    }
  ]
}
